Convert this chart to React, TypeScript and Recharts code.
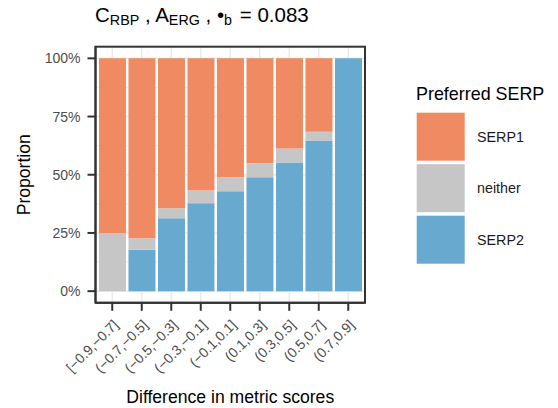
import React from 'react';
import { BarChart, Bar, XAxis, YAxis, CartesianGrid, Legend } from 'recharts';

const categories = ['[−0.9,−0.7]', '(−0.7,−0.5]', '(−0.5,−0.3]', '(−0.3,−0.1]', '(−0.1,0.1]', '(0.1,0.3]', '(0.3,0.5]', '(0.5,0.7]', '(0.7,0.9]'];
const serp2 = [0, 0.178, 0.313, 0.378, 0.429, 0.489, 0.553, 0.647, 1.0];
const neither = [0.25, 0.049, 0.043, 0.054, 0.06, 0.06, 0.06, 0.038, 0];
const serp1 = [0.75, 0.773, 0.644, 0.568, 0.511, 0.451, 0.387, 0.315, 0];
const yTicks = [0, 0.25, 0.5, 0.75, 1];
const yMinor = [0.125, 0.375, 0.625, 0.875];
const legendItems = [
  { name: 'SERP1', color: '#EF8A62' },
  { name: 'neither', color: '#C6C6C6' },
  { name: 'SERP2', color: '#67A9CF' },
];

const FONT = '"Liberation Sans", Arial, Helvetica, sans-serif';

const data = categories.map((cat, i) => ({ cat, SERP2: serp2[i], neither: neither[i], SERP1: serp1[i] }));

const XTick = (props: any) => {
  const { x, y, payload } = props;
  const ex = x + 7;
  const ey = y + 15;
  return (
    <text
      x={ex}
      y={ey}
      textAnchor="end"
      transform={`rotate(-45, ${ex}, ${ey})`}
      fill="#4D4D4D"
      fontSize={14}
      fontFamily={FONT}
    >
      {payload.value}
    </text>
  );
};

const LegendBox = () => (
  <svg width={148} height={200} style={{ display: 'block' }}>
    <text x={6} y={20} fontSize={17.9} fontFamily={FONT} fill="#000">Preferred SERP</text>
    {legendItems.map((it, i) => {
      const ry = 32.7 + i * 51.5;
      return (
        <g key={it.name}>
          <rect x={6.7} y={ry} width={48} height={48} fill={it.color} />
          <text x={67} y={ry + 24} dy="0.355em" fontSize={14.3} fontFamily={FONT} fill="#1a1a1a">{it.name}</text>
        </g>
      );
    })}
  </svg>
);

export default function App() {
  return (
    <div style={{ position: 'absolute', left: 0, top: 0, width: 558, height: 408, background: '#fff' }}>
      <BarChart
        width={558}
        height={408}
        data={data}
        margin={{ top: 46.7, right: 193, bottom: 0, left: 0.5 }}
        barCategoryGap="5%"
      >
        <CartesianGrid stroke="#EBEBEB" strokeWidth={1.5} horizontalValues={yTicks} vertical={true} />
        <CartesianGrid stroke="#EBEBEB" strokeWidth={0.8} horizontalValues={yMinor} vertical={false} />
        <XAxis
          dataKey="cat"
          type="category"
          height={105.2}
          padding={{ left: 2, right: 2 }}
          tickSize={8}
          tickMargin={0}
          interval={0}
          axisLine={{ stroke: '#333333', strokeWidth: 2 }}
          tickLine={{ stroke: '#333333', strokeWidth: 2 }}
          tick={<XTick />}
          label={{
            content: (p: any) => {
              const vb = p.viewBox || { x: 95.5, y: 302.8, width: 269.5, height: 105.2 };
              return (
                <text x={vb.x + vb.width / 2} y={402.7} textAnchor="middle" fontSize={17.6} fontFamily={FONT} fill="#000">
                  Difference in metric scores
                </text>
              );
            },
          }}
        />
        <YAxis
          width={95}
          type="number"
          domain={[-0.05, 1.05]}
          ticks={yTicks}
          tickFormatter={(v: number) => `${Math.round(v * 100)}%`}
          tickSize={8}
          tickMargin={7}
          axisLine={{ stroke: '#333333', strokeWidth: 2 }}
          tickLine={{ stroke: '#333333', strokeWidth: 2 }}
          tick={{ fill: '#4D4D4D', fontSize: 14, fontFamily: FONT }}
          label={{
            content: (p: any) => {
              const vb = p.viewBox || { x: 0.5, y: 46.7, width: 95, height: 256.1 };
              const cy = vb.y + vb.height / 2;
              return (
                <text x={29.5} y={cy} transform={`rotate(-90, 29.5, ${cy})`} textAnchor="middle" fontSize={17.6} fontFamily={FONT} fill="#000">
                  Proportion
                </text>
              );
            },
          }}
        />
        <Bar dataKey="SERP2" stackId="a" fill="#67A9CF" isAnimationActive={false} />
        <Bar dataKey="neither" stackId="a" fill="#C6C6C6" isAnimationActive={false} />
        <Bar dataKey="SERP1" stackId="a" fill="#EF8A62" isAnimationActive={false} />
        <Legend
          layout="horizontal"
          verticalAlign="middle"
          align="center"
          wrapperStyle={{ position: 'absolute', left: 410, top: 80, width: 148, height: 200 }}
          content={() => <LegendBox />}
        />
      </BarChart>
      <svg width={558} height={408} style={{ position: 'absolute', left: 0, top: 0, pointerEvents: 'none' }}>
        <rect x={95.5} y={46.7} width={269.5} height={256.1} fill="none" stroke="#333333" strokeWidth={2} />
        <text x={95} y={21.7} fontSize={20.5} fontFamily={FONT} fill="#000">
          C
          <tspan fontSize={14.3} dy={3.3}>RBP</tspan>
          <tspan dy={-3.3}> , A</tspan>
          <tspan fontSize={14.3} dy={3.3}>ERG</tspan>
          <tspan dy={-3.3}> , •</tspan>
          <tspan fontSize={14.3} dy={3.3}>b</tspan>
          <tspan dy={-3.3} dx={2}> = 0.083</tspan>
        </text>
      </svg>
    </div>
  );
}
